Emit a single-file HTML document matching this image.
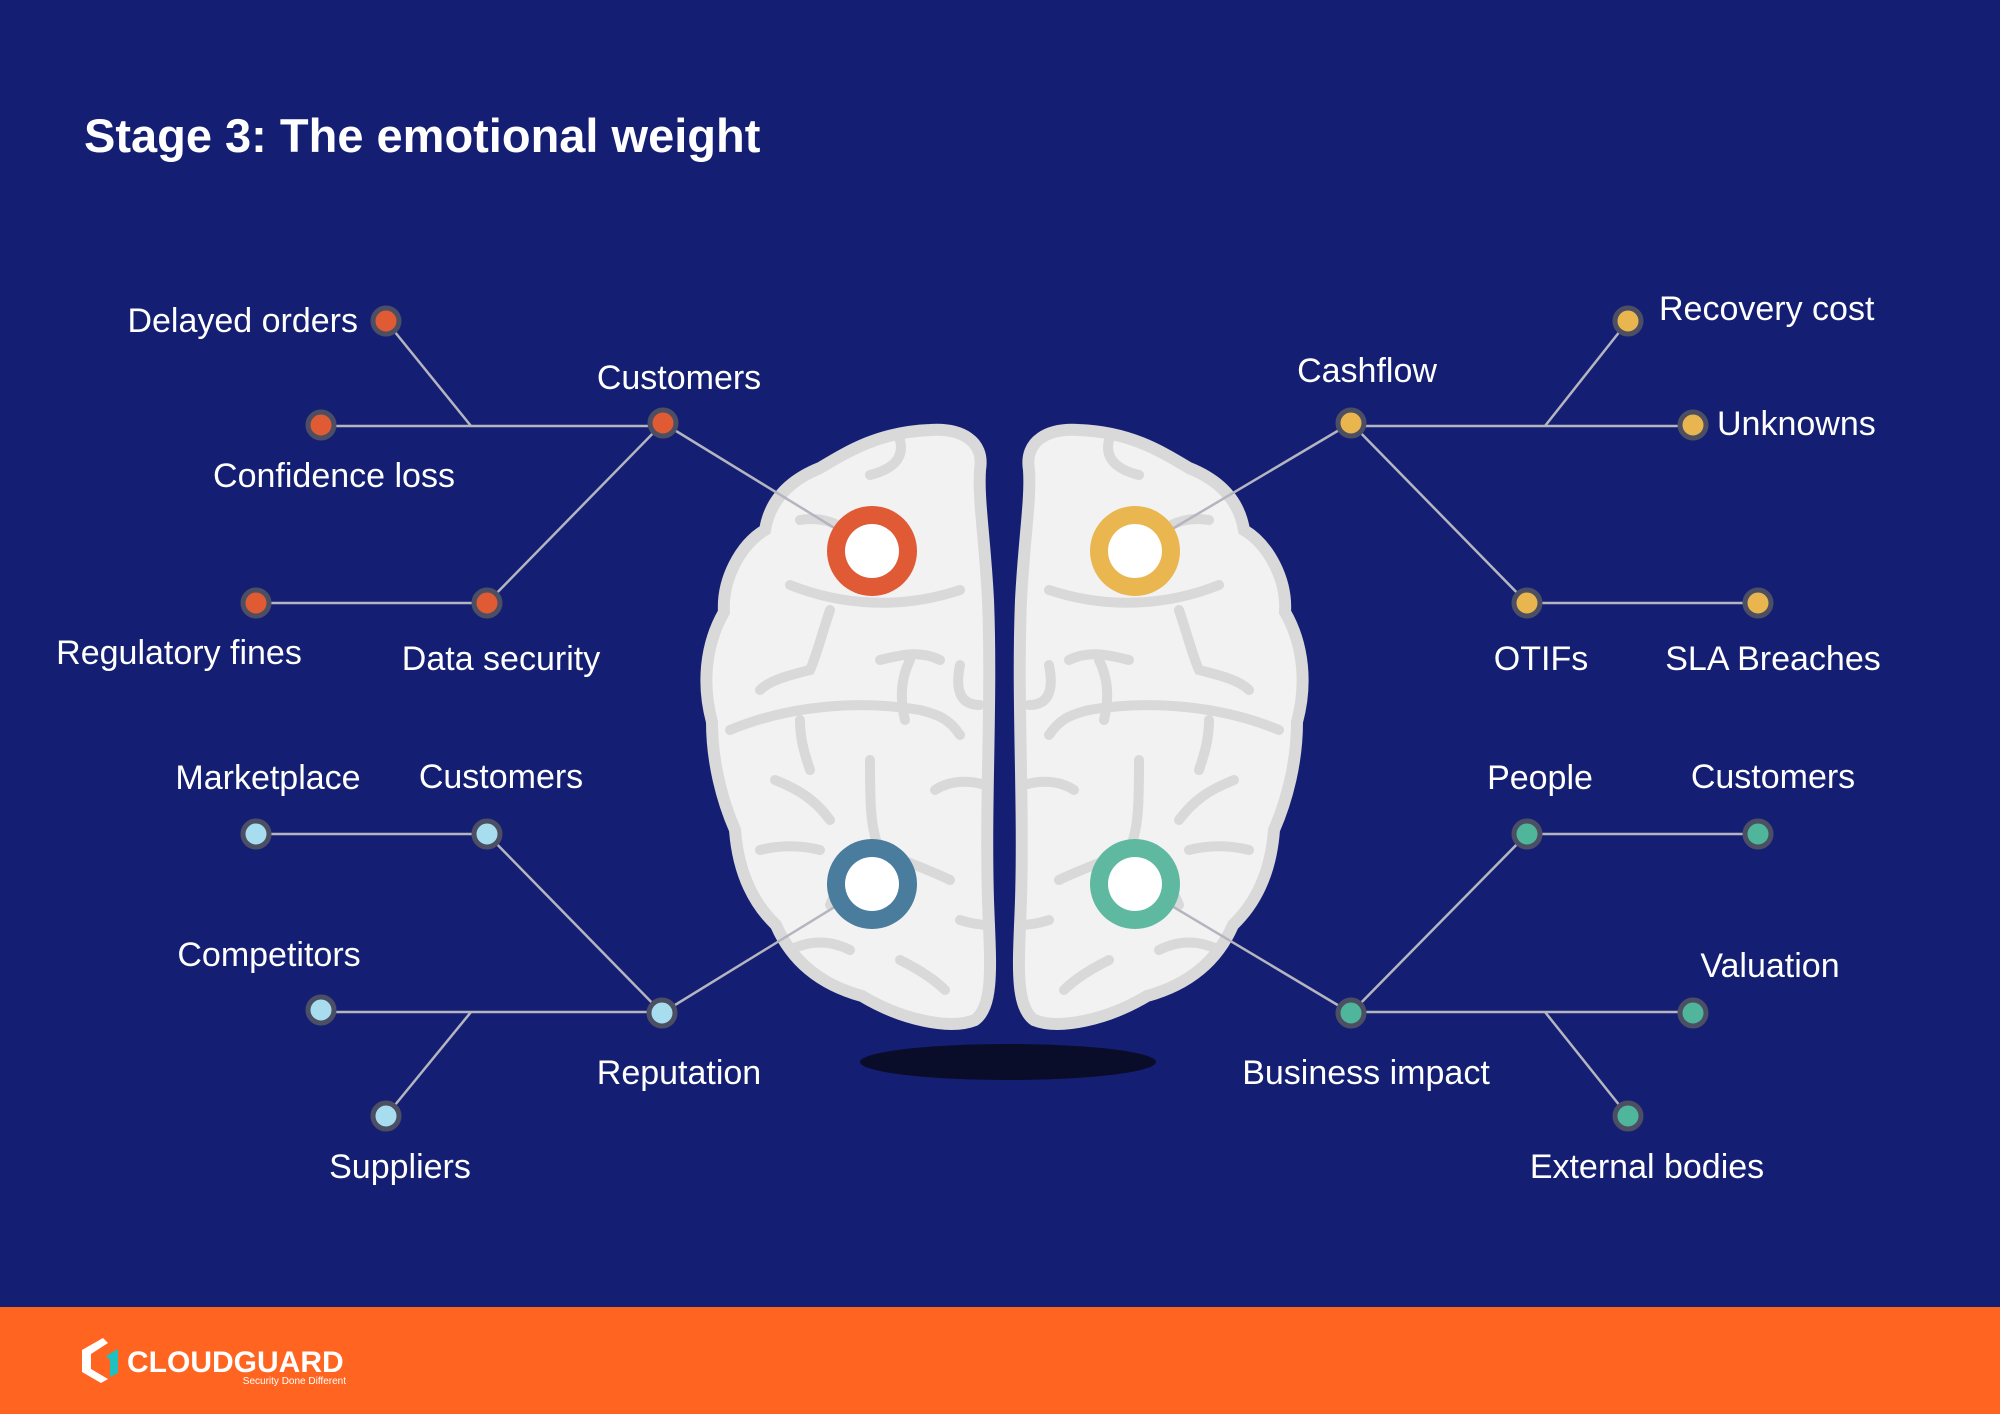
<!DOCTYPE html>
<html><head><meta charset="utf-8">
<style>
html,body{margin:0;padding:0;background:#ff6520;}
body{width:2000px;height:1414px;overflow:hidden;font-family:"Liberation Sans",sans-serif;}
svg{display:block;}
</style></head>
<body>
<svg width="2000" height="1414" viewBox="0 0 2000 1414" xmlns="http://www.w3.org/2000/svg">
<rect width="2000" height="1414" fill="#141f73"/>
<rect y="1307" width="2000" height="107" fill="#ff6520"/>
<text x="84" y="152" font-family="Liberation Sans, sans-serif" font-weight="bold" font-size="47" fill="#fff">Stage 3: The emotional weight</text>

<ellipse cx="1008" cy="1062" rx="148" ry="18" fill="#0a0d2a"/>

<defs>
<g id="hemi">
<path d="M980,470 C985,440 960,428 930,430 C880,432 850,450 820,468 C790,480 770,500 765,530 C740,545 722,580 724,612 C705,645 702,685 712,722 C712,762 722,800 735,830 C738,870 752,902 776,925 C792,962 822,985 862,996 C902,1020 950,1030 975,1020 C995,1005 990,960 988,900 C985,800 992,700 988,600 C985,540 978,500 980,470 Z" fill="#f2f2f2" stroke="#d9d9d9" stroke-width="12"/>
<g fill="none" stroke="#d9d9d9" stroke-width="10" stroke-linecap="round">
<path d="M900,440 C905,460 890,470 870,475"/>
<path d="M800,520 C830,515 850,530 860,545"/>
<path d="M790,585 C840,605 900,610 960,590"/>
<path d="M830,610 C820,640 815,660 810,670 C790,675 770,680 760,690"/>
<path d="M880,660 C900,655 920,650 940,660"/>
<path d="M910,660 C900,680 900,700 905,720"/>
<path d="M730,730 C790,705 860,700 920,710 C940,715 950,720 960,735"/>
<path d="M800,720 C800,740 805,755 810,770"/>
<path d="M960,665 C955,690 960,705 980,705"/>
<path d="M775,780 C800,790 815,800 830,820"/>
<path d="M870,760 C870,800 870,830 880,850 C900,860 930,870 950,880"/>
<path d="M880,850 C860,860 840,880 830,905"/>
<path d="M760,850 C780,845 800,845 820,850"/>
<path d="M935,790 C950,780 970,780 985,785"/>
<path d="M790,950 C810,940 830,940 850,950"/>
<path d="M900,960 C920,970 935,980 945,990"/>
<path d="M960,920 C975,925 985,925 990,925"/>
</g>
</g>
</defs>
<use href="#hemi"/>
<use href="#hemi" transform="translate(2009,0) scale(-1,1)"/>

<g stroke="#b5b5c0" stroke-width="2.5" fill="none">
<line x1="386" y1="321" x2="471" y2="426"/>
<line x1="321" y1="426" x2="663" y2="426"/>
<line x1="663" y1="423" x2="487" y2="603"/>
<line x1="663" y1="423" x2="872" y2="551"/>
<line x1="256" y1="603" x2="487" y2="603"/>

<line x1="1628" y1="321" x2="1545" y2="426"/>
<line x1="1351" y1="426" x2="1693" y2="426"/>
<line x1="1351" y1="423" x2="1527" y2="603"/>
<line x1="1351" y1="423" x2="1135" y2="551"/>
<line x1="1527" y1="603" x2="1758" y2="603"/>

<line x1="256" y1="834" x2="487" y2="834"/>
<line x1="487" y1="834" x2="662" y2="1013"/>
<line x1="321" y1="1012" x2="662" y2="1012"/>
<line x1="386" y1="1116" x2="471" y2="1012"/>
<line x1="662" y1="1013" x2="872" y2="884"/>

<line x1="1527" y1="834" x2="1758" y2="834"/>
<line x1="1527" y1="834" x2="1351" y2="1013"/>
<line x1="1351" y1="1012" x2="1693" y2="1012"/>
<line x1="1628" y1="1116" x2="1545" y2="1012"/>
<line x1="1351" y1="1013" x2="1135" y2="884"/>
</g>

<circle cx="872" cy="551" r="45" fill="#df5a35"/>
<circle cx="1135" cy="551" r="45" fill="#e9b650"/>
<circle cx="872" cy="884" r="45" fill="#4a7c9e"/>
<circle cx="1135" cy="884" r="45" fill="#5fb9a1"/>
<g fill="#fff">
<circle cx="872" cy="551" r="27"/><circle cx="1135" cy="551" r="27"/>
<circle cx="872" cy="884" r="27"/><circle cx="1135" cy="884" r="27"/>
</g>

<g stroke="#4c4f63" stroke-width="5">
<g fill="#e05a33">
<circle cx="386" cy="321" r="13"/><circle cx="321" cy="425" r="13"/><circle cx="663" cy="423" r="13"/>
<circle cx="256" cy="603" r="13"/><circle cx="487" cy="603" r="13"/>
</g>
<g fill="#e8b54e">
<circle cx="1628" cy="321" r="13"/><circle cx="1693" cy="425" r="13"/><circle cx="1351" cy="423" r="13"/>
<circle cx="1527" cy="603" r="13"/><circle cx="1758" cy="603" r="13"/>
</g>
<g fill="#a8dcef">
<circle cx="256" cy="834" r="13"/><circle cx="487" cy="834" r="13"/><circle cx="662" cy="1013" r="13"/>
<circle cx="321" cy="1010" r="13"/><circle cx="386" cy="1116" r="13"/>
</g>
<g fill="#4fb59b">
<circle cx="1527" cy="834" r="13"/><circle cx="1758" cy="834" r="13"/><circle cx="1351" cy="1013" r="13"/>
<circle cx="1693" cy="1013" r="13"/><circle cx="1628" cy="1116" r="13"/>
</g>
</g>

<g font-family="Liberation Sans, sans-serif" font-size="34" fill="#fff">
<text x="358" y="332" text-anchor="end">Delayed orders</text>
<text x="334" y="487" text-anchor="middle">Confidence loss</text>
<text x="679" y="389" text-anchor="middle">Customers</text>
<text x="179" y="664" text-anchor="middle">Regulatory fines</text>
<text x="501" y="670" text-anchor="middle">Data security</text>

<text x="1367" y="382" text-anchor="middle">Cashflow</text>
<text x="1659" y="320">Recovery cost</text>
<text x="1717" y="435">Unknowns</text>
<text x="1541" y="670" text-anchor="middle">OTIFs</text>
<text x="1773" y="670" text-anchor="middle">SLA Breaches</text>

<text x="268" y="789" text-anchor="middle">Marketplace</text>
<text x="501" y="788" text-anchor="middle">Customers</text>
<text x="269" y="966" text-anchor="middle">Competitors</text>
<text x="679" y="1084" text-anchor="middle">Reputation</text>
<text x="400" y="1178" text-anchor="middle">Suppliers</text>

<text x="1540" y="789" text-anchor="middle">People</text>
<text x="1773" y="788" text-anchor="middle">Customers</text>
<text x="1770" y="977" text-anchor="middle">Valuation</text>
<text x="1366" y="1084" text-anchor="middle">Business impact</text>
<text x="1647" y="1178" text-anchor="middle">External bodies</text>
</g>

<path d="M103,1338 L82,1350 L82,1372 L101,1383 L108,1379 L91,1369 L91,1354 L108,1343 Z" fill="#fff"/>
<path d="M106,1356 L118,1349 L118,1373 L110,1377 L110,1360 Z" fill="#1fc0c0"/>
<text x="127" y="1372" font-family="Liberation Sans, sans-serif" font-weight="bold" font-size="30" fill="#fff">CLOUDGUARD</text>
<text x="346" y="1384" text-anchor="end" font-family="Liberation Sans, sans-serif" font-size="10" fill="#fff">Security Done Different</text>
</svg>
</body></html>
